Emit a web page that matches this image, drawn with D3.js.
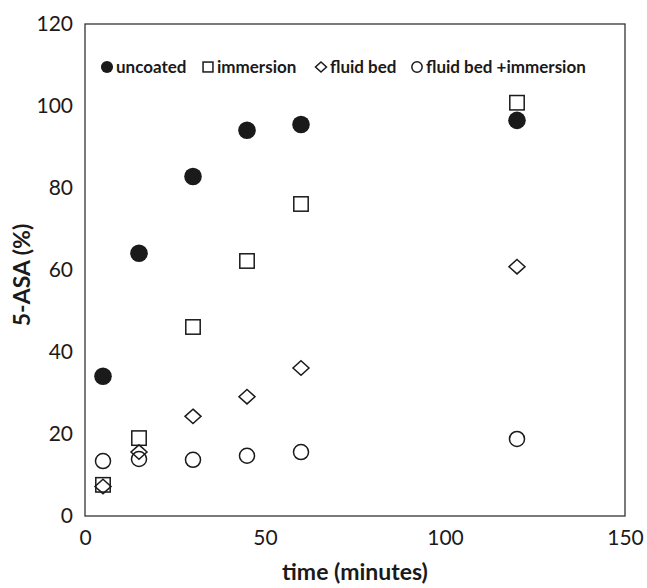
<!DOCTYPE html>
<html><head><meta charset="utf-8">
<script src="https://cdn.jsdelivr.net/npm/d3@7"></script>
<style>body{margin:0;background:#fff}svg{display:block}text{font-family:Lato,"Open Sans",sans-serif}</style>
</head><body><svg id="c" width="647" height="588"></svg>
<script>
const times = [5, 15, 30, 45, 60, 120];
const uncoated = [34.1, 64.1, 82.8, 94.1, 95.5, 96.5];
const immersion = [7.6, 19, 46.1, 62.2, 76.1, 100.8];
const fluidBed = [7.2, 15.6, 24.3, 29.1, 36.1, 60.8];
const fluidBedImmersion = [13.4, 13.9, 13.7, 14.7, 15.6, 18.8];
const xTicks = [0, 50, 100, 150];
const yTicks = [0, 20, 40, 60, 80, 100, 120];
const seriesNames = ["uncoated", "immersion", "fluid bed", "fluid bed +immersion"];
const seriesTypes = ["fcircle", "square", "diamond", "ocircle"];

const svg = d3.select("#c");
const m = {l: 85, r: 625, t: 24, b: 516};
const x = d3.scaleLinear().domain([0, 150]).range([m.l, m.r]);
const y = d3.scaleLinear().domain([0, 120]).range([m.b, m.t]);
const ink = "#1a1a1a";

svg.append("rect").attr("x", m.l).attr("y", m.t).attr("width", m.r - m.l).attr("height", m.b - m.t)
  .attr("fill", "none").attr("stroke", "#333").attr("stroke-width", 1.3);

const xa = svg.append("g").attr("transform", `translate(0,${m.b})`)
  .call(d3.axisBottom(x).tickValues(xTicks).tickSize(0).tickPadding(14));
const ya = svg.append("g").attr("transform", `translate(${m.l},0)`)
  .call(d3.axisLeft(y).tickValues(yTicks).tickSize(0).tickPadding(12));
[xa, ya].forEach(a => { a.select(".domain").remove(); a.selectAll("text").attr("font-size", 21).attr("fill", ink).style("font-family", "Lato,sans-serif"); });
xa.selectAll("text").attr("dy", "0.71em");

svg.append("text").attr("x", 355).attr("y", 580).attr("text-anchor", "middle")
  .attr("font-size", 23).attr("font-weight", "bold").attr("fill", ink).text("time (minutes)");
svg.append("text").attr("transform", `translate(30,${(m.t + m.b) / 2 + 5}) rotate(-90)`).attr("text-anchor", "middle")
  .attr("font-size", 23).attr("font-weight", "bold").attr("fill", ink).text("5-ASA (%)");

function marker(g, type, cx, cy, s) {
  if (type === "fcircle") g.append("circle").attr("cx", cx).attr("cy", cy).attr("r", s * 0.55).attr("fill", ink);
  else if (type === "ocircle") g.append("circle").attr("cx", cx).attr("cy", cy).attr("r", s * 0.47).attr("fill", "none").attr("stroke", ink).attr("stroke-width", 1.5);
  else if (type === "square") g.append("rect").attr("x", cx - s * 0.45).attr("y", cy - s * 0.45).attr("width", s * 0.9).attr("height", s * 0.9).attr("fill", "none").attr("stroke", ink).attr("stroke-width", 1.5);
  else if (type === "diamond") g.append("path").attr("d", `M${cx},${cy - s * 0.45}L${cx + s * 0.5},${cy}L${cx},${cy + s * 0.45}L${cx - s * 0.5},${cy}Z`).attr("fill", "none").attr("stroke", ink).attr("stroke-width", 1.5);
}

const data = [uncoated, immersion, fluidBed, fluidBedImmersion];
const pts = svg.append("g");
data.forEach((vals, i) => {
  vals.forEach((v, j) => marker(pts, seriesTypes[i], x(times[j]), y(v), 16));
});

// legend
const leg = svg.append("g");
const legX = [107, 208, 321, 417];
seriesNames.forEach((n, i) => {
  marker(leg, seriesTypes[i], legX[i], 67, 11);
  leg.append("text").attr("x", legX[i] + 9).attr("y", 67).attr("dy", "0.35em")
    .attr("font-size", 17).attr("font-weight", "bold").attr("fill", ink).text(n);
});
</script></body></html>
